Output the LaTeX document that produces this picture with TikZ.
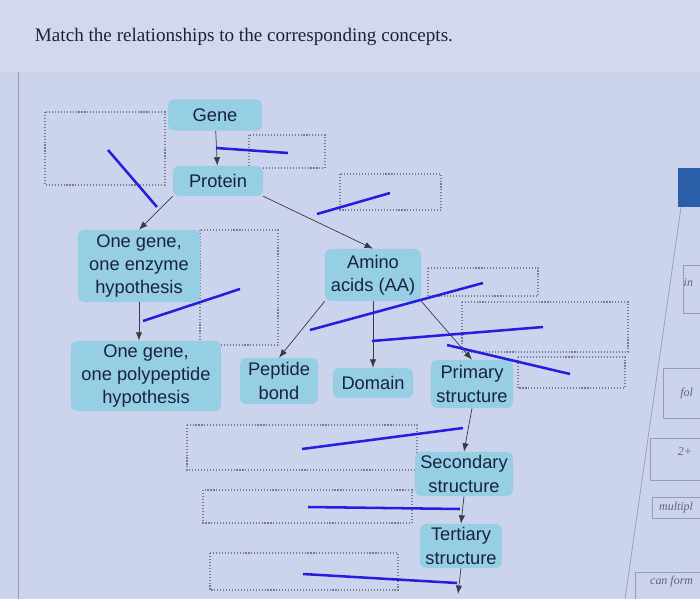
\documentclass[tikz,border=0pt]{standalone}
\usepackage{fontspec}
\setmainfont{Liberation Serif}
\setsansfont{Liberation Sans}
\usetikzlibrary{arrows.meta}

\definecolor{pagebg}{RGB}{204,211,236}
\definecolor{topbg}{RGB}{212,216,238}
\definecolor{nodecyan}{RGB}{150,206,228}
\definecolor{inkdark}{RGB}{25,35,62}
\definecolor{slotgrey}{RGB}{118,124,150}
\definecolor{linkgrey}{RGB}{58,58,70}
\definecolor{penblue}{RGB}{38,30,222}
\definecolor{cardgrey}{RGB}{150,156,182}
\definecolor{tabblue}{RGB}{42,94,168}

\begin{document}
\begin{tikzpicture}[x=0.025cm,y=-0.025cm,
  concept/.style={fill=nodecyan,rounded corners=4pt,align=center,inner sep=2pt,
    text=inkdark,font=\sffamily\fontsize{13}{16.5}\selectfont},
  slot/.style={draw=slotgrey,line width=0.8pt,dash pattern=on 0.8pt off 1.3pt},
  link/.style={draw=linkgrey,line width=0.5pt,-{Latex[length=6pt,width=4.5pt]}},
  penline/.style={draw=penblue,line width=1.8pt},
  card/.style={draw=cardgrey,line width=0.4pt},
  cardtext/.style={font=\itshape\fontsize{8.5}{10}\selectfont,text=inkdark!70,anchor=east}]
  \useasboundingbox (0,0) rectangle (700,599);
  \clip (0,0) rectangle (700,599);
  \fill[pagebg] (0,0) rectangle (700,599);
  \fill[topbg] (0,0) rectangle (700,72);
  \draw[cardgrey,line width=0.4pt] (18,72) -- (18,599);

  \node[anchor=west,text=inkdark,font=\fontsize{13.6}{16}\selectfont] (title) at (30,37)
    {Match the relationships to the corresponding concepts.};

  % empty drop targets
  \draw[slot] (45,112) rectangle (165,185);
  \draw[slot] (249,135) rectangle (325,168);
  \draw[slot] (340,174) rectangle (441,210);
  \draw[slot] (200,230) rectangle (278,345);
  \draw[slot] (428,268) rectangle (538,296);
  \draw[slot] (462,302) rectangle (628,352);
  \draw[slot] (518,357) rectangle (625,388);
  \draw[slot] (187,425) rectangle (417,470);
  \draw[slot] (203,490) rectangle (412,523);
  \draw[slot] (210,553) rectangle (398,590);

  % concepts
  \node[concept,minimum width=2.35cm,minimum height=0.78cm] (gene) at (215,115) {Gene};
  \node[concept,minimum width=2.25cm,minimum height=0.75cm] (protein) at (218,181) {Protein};
  \node[concept,minimum width=3.05cm,minimum height=1.8cm] (enzyme) at (139,266)
    {One gene,\\one enzyme\\hypothesis};
  \node[concept,minimum width=3.75cm,minimum height=1.75cm] (polypep) at (146,376)
    {One gene,\\one polypeptide\\hypothesis};
  \node[concept,minimum width=2.4cm,minimum height=1.3cm] (amino) at (373,275)
    {Amino\\acids (AA)};
  \node[concept,minimum width=1.95cm,minimum height=1.15cm] (peptide) at (279,381)
    {Peptide\\bond};
  \node[concept,minimum width=2.0cm,minimum height=0.75cm] (domain) at (373,383) {Domain};
  \node[concept,minimum width=2.05cm,minimum height=1.2cm] (primary) at (472,384)
    {Primary\\structure};
  \node[concept,minimum width=2.45cm,minimum height=1.1cm] (secondary) at (464,474)
    {Secondary\\structure};
  \node[concept,minimum width=2.05cm,minimum height=1.1cm] (tertiary) at (461,546)
    {Tertiary\\structure};
  \coordinate (below) at (458,594);

  % links
  \draw[link] (gene) -- (protein);
  \draw[link] (protein.south west) -- (enzyme.north);
  \draw[link] (protein.south east) -- (amino.north);
  \draw[link] (enzyme.south) -- (enzyme.south |- polypep.north);
  \draw[link] (amino.south west) -- (peptide.north);
  \draw[link] (amino.south) -- (domain.north);
  \draw[link] (amino.south east) -- (primary.north);
  \draw[link] (primary.south) -- (secondary.north);
  \draw[link] (secondary.south) -- (tertiary.north);
  \draw[link] (tertiary.south) -- (below);

  % pen strokes
  \draw[penline] (108,150) -- (157,207);
  \draw[penline] (216,148) -- (288,153);
  \draw[penline] (317,214) -- (390,193);
  \draw[penline] (143,321) -- (240,289);
  \draw[penline] (310,330) -- (483,283);
  \draw[penline] (372,341) -- (543,327);
  \draw[penline] (447,345) -- (570,374);
  \draw[penline] (302,449) -- (463,428);
  \draw[penline] (308,507) -- (460,509);
  \draw[penline] (303,574) -- (457,583);

  % side panel
  \fill[tabblue] (678,168) rectangle (700,207);
  \draw[cardgrey,line width=0.5pt] (681,207) -- (625,599);
  \draw[card] (683,265) rectangle (705,313);
  \node[cardtext] (cardA) at (698,283) {in};
  \draw[card] (663,368) rectangle (705,418);
  \node[cardtext] (cardB) at (698,394) {fol};
  \draw[card] (650,438) rectangle (705,480);
  \node[cardtext] (cardC) at (697,452) {2+};
  \draw[card] (652,497) rectangle (705,518);
  \node[cardtext] (cardD) at (698,508) {multipl};
  \draw[card] (635,572) rectangle (705,605);
  \node[cardtext] (cardE) at (698,582) {can form};
\end{tikzpicture}
\end{document}
